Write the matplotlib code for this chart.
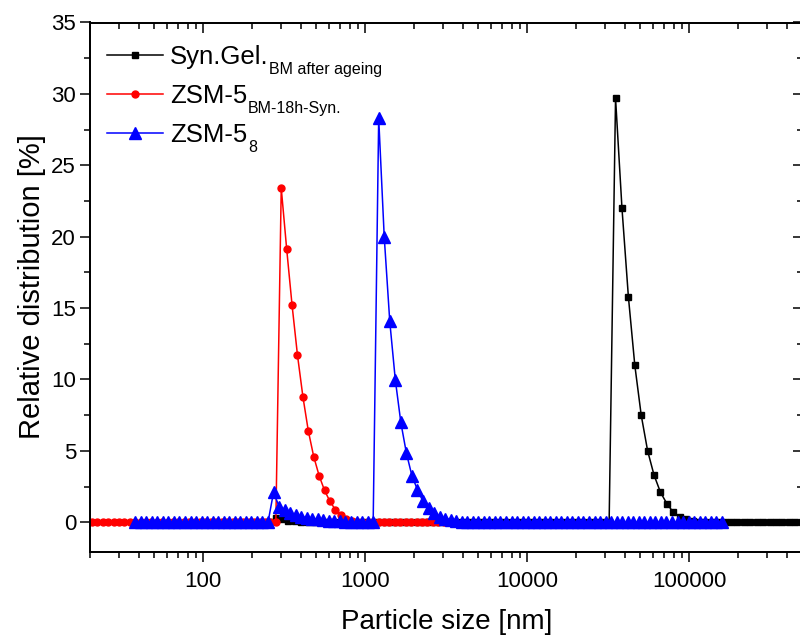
import numpy as np
import matplotlib
matplotlib.use("Agg")
import matplotlib.pyplot as plt
from matplotlib.ticker import FixedLocator, FixedFormatter, LogLocator, NullFormatter, MultipleLocator

plt.rcParams['font.family'] = ['Liberation Sans', 'DejaVu Sans']

# ---------------- data ----------------
# size grids (log-spaced measurement bins), log10(nm) start/stop and count
gel_size = np.logspace(2.4066, 2.4066 + 0.0396 * 86, 87)
gel_vals = ([0.0, 0.3, 0.2, 0.12, 0.06, 0.02] + [0.0] * 48 +
            [29.7, 22.0, 15.8, 11.0, 7.5, 5.0, 3.3, 2.1, 1.3, 0.7, 0.4, 0.2, 0.1, 0.05])
gel_vals = gel_vals + [0.0] * (len(gel_size) - len(gel_vals))

zsm18_size = np.logspace(2.4815 - 37 * 0.0334, 2.4815 + 31 * 0.0334, 69)
zsm18_vals = ([0.0] * 37 +
              [23.4, 19.15, 15.2, 11.7, 8.8, 6.4, 4.6, 3.26, 2.23, 1.46, 0.88, 0.48, 0.25, 0.12, 0.05, 0.02])
zsm18_vals = zsm18_vals + [0.0] * (len(zsm18_size) - len(zsm18_vals))

zsm8_size = np.logspace(1.58, 1.58 + 0.03416 * 106, 107)
zsm8_vals = ([0.0] * 25 +
             [2.1, 1.1, 0.85, 0.65, 0.5, 0.4, 0.32, 0.26, 0.2, 0.16, 0.12, 0.09, 0.07, 0.05, 0.03, 0.02, 0.01, 0.0, 0.0,
              28.3, 19.98, 14.06, 9.98, 6.99, 4.85, 3.26, 2.28, 1.46, 0.99, 0.64, 0.4, 0.25, 0.15, 0.08, 0.04, 0.02])
zsm8_vals = zsm8_vals + [0.0] * (len(zsm8_size) - len(zsm8_vals))

labels = ['Syn.Gel.', 'ZSM-5', 'ZSM-5']
label_subs = ['BM after ageing', 'BM-18h-Syn.', '8']

x_major = [100, 1000, 10000, 100000]
x_major_labels = ['100', '1000', '10000', '100000']
y_major = [0, 5, 10, 15, 20, 25, 30, 35]

# ---------------- figure ----------------
W, H = 800, 637
fig = plt.figure(figsize=(W / 100, H / 100), dpi=100)
ax = fig.add_axes([90 / W, 1 - 551.5 / H, 712.5 / W, 529 / H])

ax.plot(gel_size, gel_vals, color='black', marker='s', markersize=4.5, lw=1.1, label=labels[0], zorder=2)
ax.plot(zsm18_size, zsm18_vals, color='#ff0000', marker='o', markersize=5, lw=1.1, label=labels[1], zorder=3)
ax.plot(zsm8_size, zsm8_vals, color='#0000ff', marker='^', markersize=8, lw=1.1, label=labels[2], zorder=4)

ax.set_xscale('log')
ax.set_xlim(20, 500000)
ax.set_ylim(-2.05, 35)

ax.xaxis.set_major_locator(FixedLocator(x_major))
ax.xaxis.set_major_formatter(FixedFormatter(x_major_labels))
ax.xaxis.set_minor_locator(LogLocator(base=10, subs=np.arange(2, 10), numticks=20))
ax.xaxis.set_minor_formatter(NullFormatter())
ax.yaxis.set_major_locator(FixedLocator(y_major))
ax.yaxis.set_minor_locator(MultipleLocator(2.5))

for s in ax.spines.values():
    s.set_linewidth(1.1)
ax.tick_params(which='major', direction='out', length=7, width=1.1, labelsize=16, pad=3)
ax.tick_params(which='minor', direction='out', length=4.3, width=1.1)
ax.tick_params(axis='x', which='major', pad=7)

# mirrored inward ticks on top and right
axt = ax.twiny()
axt.set_xscale('log')
axt.set_xlim(ax.get_xlim())
axt.xaxis.set_major_locator(FixedLocator(x_major))
axt.xaxis.set_minor_locator(LogLocator(base=10, subs=np.arange(2, 10), numticks=20))
axt.tick_params(which='major', direction='in', length=7, width=1.1, labeltop=False)
axt.tick_params(which='minor', direction='in', length=4.3, width=1.1)
axr = ax.twinx()
axr.set_ylim(ax.get_ylim())
axr.yaxis.set_major_locator(FixedLocator(y_major))
axr.yaxis.set_minor_locator(MultipleLocator(2.5))
axr.tick_params(which='major', direction='in', length=7, width=1.1, labelright=False)
axr.tick_params(which='minor', direction='in', length=4.3, width=1.1)
for a in (axt, axr):
    for s in a.spines.values():
        s.set_linewidth(1.1)

ax.set_xlabel('Particle size [nm]', fontsize=20, labelpad=12.5)
ax.set_ylabel('Relative distribution [%]', fontsize=21, labelpad=4)

leg = axr.legend(*ax.get_legend_handles_labels(), loc='upper left',
                 bbox_to_anchor=((107 - 90) / 712.5, 1 - (45 - 22.5) / 529),
                 frameon=False, fontsize=18.5, handlelength=2.18, handletextpad=0.27,
                 borderaxespad=0, borderpad=0, labelspacing=0.58)
leg.set_zorder(5)

for txt, sub in zip(leg.get_texts(), label_subs):
    axr.annotate(sub, xy=(1, 0), xycoords=txt, xytext=(0.5, -3.6), textcoords='offset points',
                 fontsize=11.5, va='baseline', ha='left', annotation_clip=False, zorder=10)

fig.savefig('out.png', dpi=100)
